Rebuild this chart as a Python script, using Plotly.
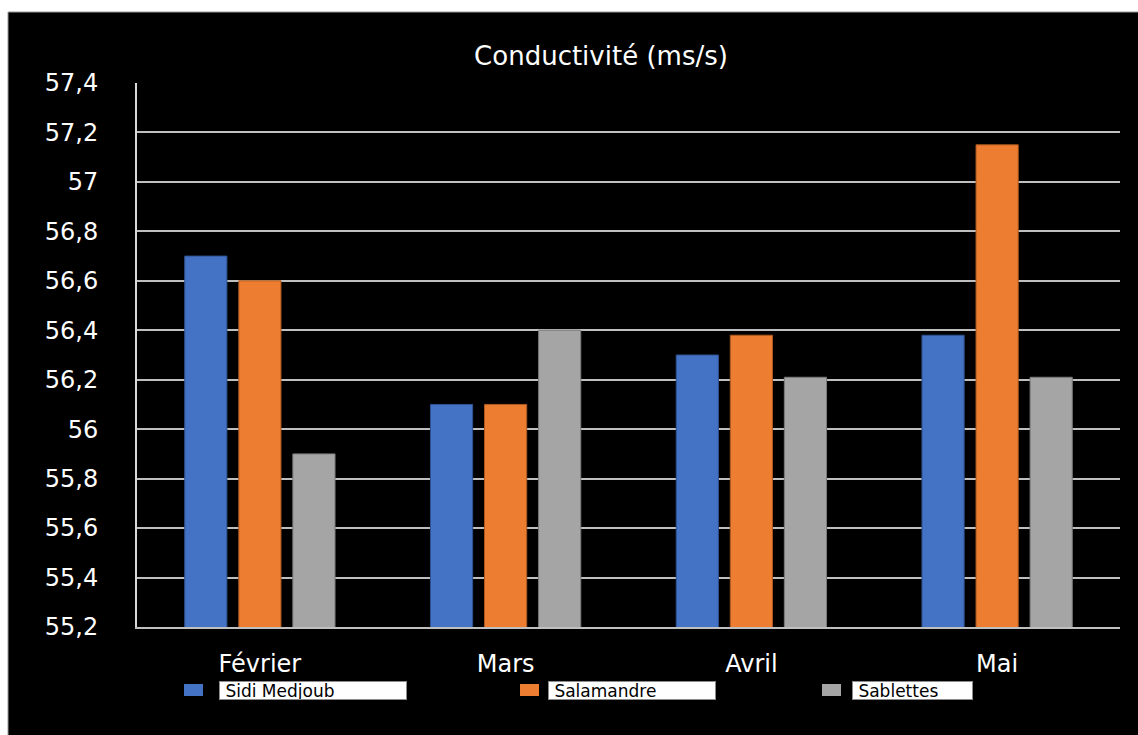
import plotly.graph_objects as go

# Monthly conductivity readings per site
months = ["Février", "Mars", "Avril", "Mai"]
sites = ["Sidi Medjoub", "Salamandre", "Sablettes"]
sidi_medjoub = [56.7, 56.1, 56.3, 56.38]
salamandre = [56.6, 56.1, 56.38, 57.15]
sablettes = [55.9, 56.4, 56.21, 56.21]

y_ticks = [55.2, 55.4, 55.6, 55.8, 56.0, 56.2, 56.4, 56.6, 56.8, 57.0, 57.2, 57.4]
y_tick_labels = ["55,2", "55,4", "55,6", "55,8", "56", "56,2", "56,4", "56,6",
                 "56,8", "57", "57,2", "57,4"]

fill_colors = ["#4472C4", "#ED7D31", "#A5A5A5"]
edge_colors = ["#2F528F", "#AE5A21", "#7B7B7B"]

W, H = 1138, 735
L, R, T, B = 137, 18, 83, 108
PW, PH = W - L - R, H - T - B


def px_x(x):
    return (x - L) / PW


def px_y(y):
    return (H - B - y) / PH


fig = go.Figure()
for name, vals, fc, ec in zip(sites, [sidi_medjoub, salamandre, sablettes],
                              fill_colors, edge_colors):
    fig.add_trace(go.Bar(
        x=months, y=vals, name=name,
        marker=dict(color=fc, line=dict(color=ec, width=1)),
        showlegend=False,
    ))

# black chart panel with thin grey rim
fig.add_shape(type="rect", xref="paper", yref="paper",
              x0=px_x(8), x1=px_x(W + 2), y0=px_y(H + 2), y1=px_y(12),
              fillcolor="black", line=dict(color="#9a9a9a", width=1),
              layer="below")

# custom legend: coloured swatch + boxed label
swatch_x = [184, 520, 822]
box_x = [219, 548, 852]
box_w = [188, 168, 121]
for name, fc, sx, bx, bw in zip(sites, fill_colors, swatch_x, box_x, box_w):
    fig.add_shape(type="rect", xref="paper", yref="paper",
                  x0=px_x(sx), x1=px_x(sx + 19), y0=px_y(696), y1=px_y(684),
                  fillcolor=fc, line=dict(width=0))
    fig.add_annotation(xref="paper", yref="paper",
                       x=px_x(bx), y=px_y(690.5), xanchor="left", yanchor="middle",
                       text="\u00a0" + name, showarrow=False, align="left",
                       width=bw - 2, height=17, borderpad=0,
                       bgcolor="white", bordercolor="#8c8c8c", borderwidth=1,
                       font=dict(family="DejaVu Sans", size=17, color="black"))

fig.update_layout(
    width=W, height=H,
    margin=dict(l=L, r=R, t=T, b=B),
    paper_bgcolor="white",
    plot_bgcolor="black",
    barmode="group",
    bargap=0.34,
    bargroupgap=0.22,
    title=dict(text="Conductivité (ms/s)", xref="container", yref="container",
               x=601 / W, y=1 - 56 / H, xanchor="center", yanchor="middle",
               font=dict(family="DejaVu Sans", size=26, color="white")),
    font=dict(family="DejaVu Sans", color="white"),
)

fig.update_yaxes(
    range=[55.2, 57.4],
    tickvals=y_ticks, ticktext=y_tick_labels,
    showgrid=True, gridcolor="#bfbfbf", gridwidth=1.5,
    zeroline=False,
    showline=True, linecolor="#d9d9d9", linewidth=2,
    ticks="", ticklabelstandoff=32,
    tickfont=dict(family="DejaVu Sans", size=24, color="white"),
)
fig.update_xaxes(
    showgrid=False, zeroline=False,
    showline=True, linecolor="#bfbfbf", linewidth=1.5,
    ticks="", ticklabelstandoff=14,
    tickfont=dict(family="DejaVu Sans", size=24, color="white"),
)

fig.write_html("out.html")
